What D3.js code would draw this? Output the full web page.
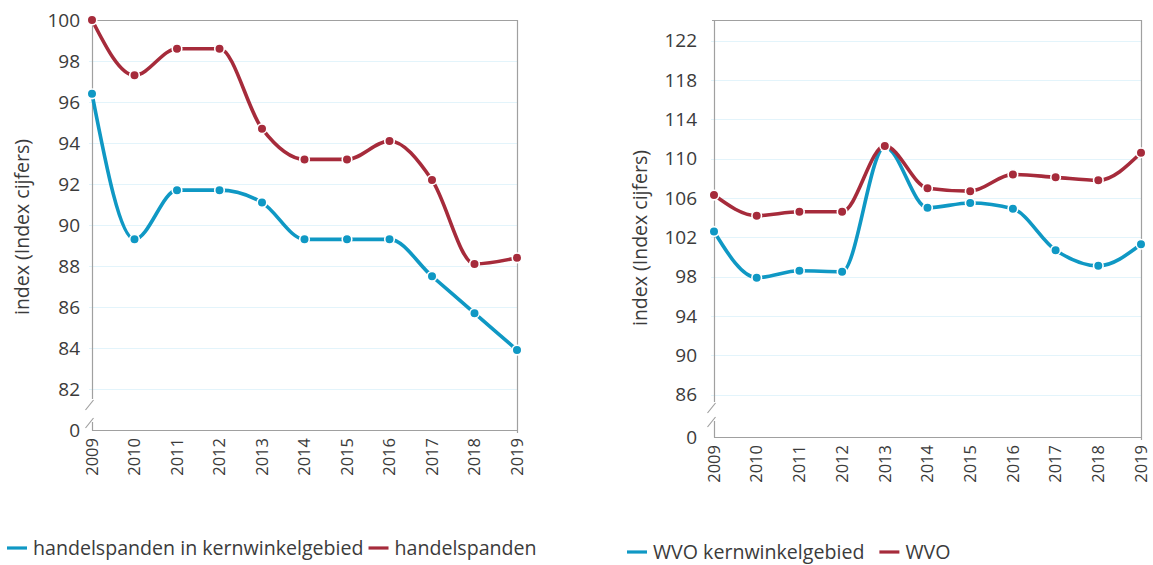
<!DOCTYPE html>
<html>
<head>
<meta charset="utf-8">
<script src="https://cdn.jsdelivr.net/npm/d3@7"></script>
<style>
    html, body { margin: 0; padding: 0; background: #fff; }
    svg { display: block; font-family: "Open Sans", "Noto Sans", sans-serif; }
    .tick-label { fill: #3b3b3b; }
</style>
</head>
<body>
<svg id="chart" width="1153" height="565"></svg>
<script>
'use strict';

// Data
var years = ['2009', '2010', '2011', '2012', '2013', '2014', '2015', '2016', '2017', '2018', '2019'];

var kernHandel = [96.4, 89.3, 91.7, 91.7, 91.1, 89.3, 89.3, 89.3, 87.5, 85.7, 83.9];
var handel     = [100, 97.3, 98.6, 98.6, 94.7, 93.2, 93.2, 94.1, 92.2, 88.1, 88.4];

var kernWvo = [102.6, 97.9, 98.6, 98.5, 111.2, 105.0, 105.5, 104.9, 100.7, 99.1, 101.3];
var wvo     = [106.3, 104.2, 104.6, 104.6, 111.3, 107.0, 106.7, 108.4, 108.1, 107.8, 110.6];

var leftTicks  = [82, 84, 86, 88, 90, 92, 94, 96, 98, 100];
var rightTicks = [86, 90, 94, 98, 102, 106, 110, 114, 118, 122];

var leftLegend  = ['handelspanden in kernwinkelgebied', 'handelspanden'];
var rightLegend = ['WVO kernwinkelgebied', 'WVO'];

var axisTitle = 'index (Index cijfers)';

var colors = { blue: '#0f98c4', red: '#a62b3b', axis: '#a0a0a0', grid: '#e3f4fb', text: '#3b3b3b' };

var svg = d3.select('#chart');

function drawChart(opts) {
    var g = svg.append('g');

    var x = d3.scalePoint()
        .domain(years)
        .range([opts.left, opts.right]);

    var y = d3.scaleLinear()
        .domain([opts.min, opts.max])
        .range([opts.bottom, opts.top]);

    // Grid lines
    g.selectAll('.grid')
        .data(opts.ticks)
        .enter().append('line')
        .attr('class', 'grid')
        .attr('x1', opts.left - 3)
        .attr('x2', opts.right)
        .attr('y1', function (d) { return Math.round(y(d)) + 0.5; })
        .attr('y2', function (d) { return Math.round(y(d)) + 0.5; })
        .attr('stroke', colors.grid)
        .attr('stroke-width', 1);

    // Plot border: top, right, bottom
    g.append('path')
        .attr('d', 'M' + (opts.left - 2) + ',' + (opts.top + 0.5) +
            'H' + (opts.right + 0.5) + 'V' + (opts.bottom + 3) +
            'M' + opts.left + ',' + (opts.bottom + 0.5) + 'H' + (opts.right + 0.5))
        .attr('fill', 'none')
        .attr('stroke', colors.axis)
        .attr('stroke-width', 1.2);

    // Left axis with a break
    var ax = opts.left + 0.5;
    g.append('path')
        .attr('d', 'M' + ax + ',' + opts.top + 'V' + opts.breakTop +
            'M' + ax + ',' + opts.breakBottom + 'V' + (opts.bottom + 0.5) +
            'M' + (ax - 7) + ',' + (opts.breakTop + 11) + 'L' + (ax + 1) + ',' + (opts.breakTop + 1) +
            'M' + (ax - 7) + ',' + (opts.breakBottom + 6) + 'L' + (ax + 1) + ',' + (opts.breakBottom - 4))
        .attr('fill', 'none')
        .attr('stroke', colors.axis)
        .attr('stroke-width', 1.2);

    // Y tick labels
    g.selectAll('.ylab')
        .data(opts.ticks.concat([opts.min]))
        .enter().append('text')
        .attr('class', 'tick-label')
        .attr('x', opts.left - opts.labelGap)
        .attr('y', function (d) { return y(d); })
        .attr('dy', '0.35em')
        .attr('text-anchor', 'end')
        .style('font-size', '19px')
        .text(function (d) { return d === opts.min ? '0' : d; });

    // X tick labels (rotated)
    g.selectAll('.xlab')
        .data(years)
        .enter().append('text')
        .attr('class', 'tick-label')
        .attr('transform', function (d) {
            return 'translate(' + x(d) + ',' + (opts.bottom + 8) + ') rotate(-90)';
        })
        .attr('dy', '0.35em')
        .attr('text-anchor', 'end')
        .style('font-size', '16.5px')
        .text(function (d) { return d; });

    // Axis title
    g.append('text')
        .attr('class', 'tick-label')
        .attr('transform', 'translate(' + opts.titleX + ',' + opts.titleY + ') rotate(-90)')
        .attr('text-anchor', 'middle')
        .style('font-size', '19.5px')
        .text(axisTitle);

    // Series
    var line = d3.line()
        .x(function (d, i) { return x(years[i]); })
        .y(function (d) { return y(d); })
        .curve(d3.curveMonotoneX);

    opts.series.forEach(function (s) {
        g.append('path')
            .attr('d', line(s.values))
            .attr('fill', 'none')
            .attr('stroke', s.color)
            .attr('stroke-width', 3.6)
            .attr('stroke-linecap', 'round');

        g.selectAll(null)
            .data(s.values)
            .enter().append('circle')
            .attr('cx', function (d, i) { return x(years[i]); })
            .attr('cy', function (d) { return y(d); })
            .attr('r', 4.8)
            .attr('fill', s.color)
            .attr('stroke', '#fff')
            .attr('stroke-width', 1.6);
    });

    // Legend
    var lg = g.append('g').attr('transform', 'translate(' + opts.legendX + ',' + opts.legendY + ')');
    var offset = 0;
    opts.series.forEach(function (s, i) {
        var item = lg.append('g').attr('transform', 'translate(' + offset + ',0)');
        item.append('line')
            .attr('x1', 0).attr('x2', 20)
            .attr('y1', 0).attr('y2', 0)
            .attr('stroke', s.color)
            .attr('stroke-width', 3.2);
        var t = item.append('text')
            .attr('class', 'tick-label')
            .attr('x', 26)
            .attr('dy', '0.35em')
            .style('font-size', '19.6px')
            .text(opts.legend[i]);
        offset += 26 + t.node().getComputedTextLength() + opts.legendSpacing;
    });
}

drawChart({
    left: 92, right: 517, top: 20, bottom: 430,
    min: 80, max: 100,
    ticks: leftTicks,
    breakTop: 399, breakBottom: 422,
    labelGap: 12,
    titleX: 29, titleY: 227,
    legend: leftLegend,
    legendX: 7, legendY: 548, legendSpacing: 5,
    series: [
        { values: kernHandel, color: colors.blue },
        { values: handel, color: colors.red }
    ]
});

drawChart({
    left: 714, right: 1141, top: 20, bottom: 437,
    min: 81.7, max: 124.1,
    ticks: rightTicks,
    breakTop: 402, breakBottom: 421,
    labelGap: 17,
    titleX: 647, titleY: 238,
    legend: rightLegend,
    legendX: 627, legendY: 552, legendSpacing: 15,
    series: [
        { values: kernWvo, color: colors.blue },
        { values: wvo, color: colors.red }
    ]
});
</script>
</body>
</html>
